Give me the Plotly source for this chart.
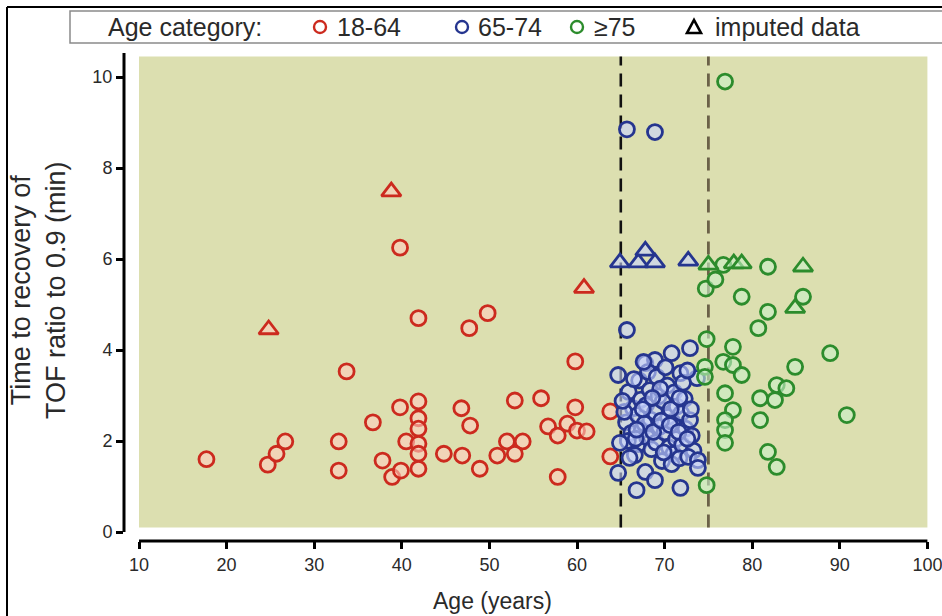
import plotly.graph_objects as go

# ---------------- data ----------------
red_age = [17.7, 24.7, 25.7, 26.7, 32.8, 32.8, 33.7, 36.7, 37.8, 38.9,
           39.9, 39.8, 39.8, 40.5, 41.9, 41.9, 41.9, 41.9, 41.9, 41.9,
           41.9, 44.8, 46.9, 46.8, 47.8, 47.7, 48.9, 49.8, 50.9, 52.0,
           53.8, 52.9, 52.9, 55.9, 56.7, 57.8, 57.8, 58.9, 59.8, 59.8,
           60.0, 61.1, 63.8, 63.8]
red_time = [1.60, 1.48, 1.72, 1.99, 1.99, 1.35, 3.53, 2.41, 1.57, 1.21,
            1.35, 2.74, 6.25, 1.99, 4.70, 2.87, 2.50, 2.27, 1.94, 1.72,
            1.39, 1.72, 1.68, 2.72, 2.34, 4.48, 1.39, 4.81, 1.68, 1.99,
            1.99, 1.72, 2.89, 2.94, 2.32, 2.12, 1.21, 2.38, 2.74, 3.75,
            2.23, 2.21, 2.65, 1.66]
red_imp_age = [24.8, 38.8, 60.8]
red_imp_time = [4.45, 7.48, 5.36]

blue_age = [65.7, 68.9, 65.7, 72.9, 70.8, 67.8, 68.9, 64.7, 71.8, 73.7,
            65.9, 66.4, 65.6, 66.2, 67.1, 67.3, 66.9, 67.4, 67.0, 68.1,
            68.3, 67.9, 68.4, 68.0, 68.5, 69.1, 69.3, 68.9, 69.4, 69.0,
            70.1, 70.3, 69.8, 70.4, 70.0, 70.5, 71.1, 71.4, 70.9, 71.3,
            71.0, 72.1, 72.3, 71.9, 72.4, 72.0, 72.9, 73.1, 73.3, 65.4,
            65.2, 69.7, 70.8, 71.7, 67.6, 72.6, 66.5,
            65.8, 66.7, 67.7, 68.7, 69.6, 70.6, 71.6, 72.6, 69.5, 70.7,
            67.5, 68.6, 71.7, 73.0, 66.8, 69.9, 72.7,
            64.9, 66.6, 64.7, 67.8, 68.9, 66.8, 71.8, 73.8, 73.8, 66.0]
blue_time = [8.85, 8.79, 4.44, 4.04, 3.93, 3.71, 3.78, 3.45, 3.49, 3.38,
             3.08, 2.72, 2.41, 2.18, 3.33, 2.91, 2.57, 2.24, 1.93, 3.52,
             3.12, 2.79, 2.47, 2.08, 1.82, 3.41, 2.98, 2.63, 2.31, 1.97,
             3.62, 3.22, 2.88, 2.53, 2.19, 1.86, 3.07, 2.76, 2.42, 2.04,
             1.72, 3.28, 2.93, 2.61, 2.27, 1.91, 2.46, 2.12, 1.79, 2.64,
             2.88, 1.56, 1.49, 1.62, 3.74, 3.55, 3.36,
             2.00, 2.05, 2.38, 2.20, 2.45, 2.35, 2.20, 2.05, 3.15, 2.70,
             2.70, 2.95, 2.95, 2.70, 2.25, 1.75, 1.65,
             1.96, 1.69, 1.30, 1.32, 1.14, 0.92, 0.97, 1.58, 1.41, 1.63]
blue_imp_age = [64.9, 67.0, 67.8, 68.9, 72.7]
blue_imp_time = [5.92, 5.92, 6.18, 5.92, 5.96]

green_age = [76.9, 76.7, 81.8, 74.7, 75.8, 78.8, 85.8, 81.8, 80.7, 74.8,
             77.8, 88.9, 76.7, 77.8, 78.8, 74.6, 74.6, 84.9, 82.8, 83.9,
             82.6, 80.9, 76.9, 77.8, 76.9, 76.9, 76.9, 80.9, 90.8, 81.8,
             82.8, 74.8]
green_time = [9.90, 5.87, 5.83, 5.35, 5.55, 5.17, 5.17, 4.84, 4.48, 4.24,
              4.07, 3.93, 3.74, 3.67, 3.45, 3.63, 3.41, 3.63, 3.23, 3.16,
              2.90, 2.94, 3.05, 2.68, 2.46, 2.24, 1.96, 2.46, 2.57, 1.76,
              1.43, 1.03]
green_imp_age = [75.0, 77.9, 78.8, 85.8, 84.9]
green_imp_time = [5.87, 5.90, 5.90, 5.83, 4.92]

cutoffs = [65, 75]
x_ticks = [10, 20, 30, 40, 50, 60, 70, 80, 90, 100]
y_ticks = [0, 2, 4, 6, 8, 10]
legend_labels = ["18-64", "65-74", "\u226575", "imputed data"]

RED, BLUE, GREEN = "#cc2a1e", "#25358f", "#2c8c2c"
RED_F, BLUE_F, GREEN_F = "rgba(255,205,190,0.6)", "rgba(200,212,255,0.6)", "rgba(200,240,200,0.6)"
BG = "#dcdfb0"

# ---------------- figure ----------------
fig = go.Figure()


def add(xs, ys, line, fill, symbol, size):
    fig.add_trace(go.Scatter(
        x=xs, y=ys, mode="markers", showlegend=False, hoverinfo="x+y",
        marker=dict(symbol=symbol, size=size, color=fill,
                    line=dict(color=line, width=2.8))))


add(red_age, red_time, RED, RED_F, "circle", 15)
add(blue_age, blue_time, BLUE, BLUE_F, "circle", 15)
add(green_age, green_time, GREEN, GREEN_F, "circle", 15)
add(red_imp_age, red_imp_time, RED, RED_F, "triangle-up", 17)
add(blue_imp_age, blue_imp_time, BLUE, BLUE_F, "triangle-up", 17)
add(green_imp_age, green_imp_time, GREEN, GREEN_F, "triangle-up", 17)

# plot geometry (pixels)
L, R, T, B = 124, 932, 53, 541
W, H = R - L, B - T


def px(x):
    return (x - L) / W


def py(y):
    return (B - y) / H


shapes = []
# background panel
shapes.append(dict(type="rect", xref="x", yref="y", x0=10, x1=100, y0=0.1, y1=10.45,
                   fillcolor=BG, line=dict(width=0), layer="below"))
# cutoff lines
shapes.append(dict(type="line", xref="x", yref="y", x0=cutoffs[0], x1=cutoffs[0], y0=0.1, y1=10.45,
                   line=dict(color="#111111", width=2.6, dash="13px,8px"), layer="below"))
shapes.append(dict(type="line", xref="x", yref="y", x0=cutoffs[1], x1=cutoffs[1], y0=0.1, y1=10.45,
                   line=dict(color="#6b6148", width=2.8, dash="13px,8px"), layer="below"))
# offset axis lines
shapes.append(dict(type="line", xref="paper", yref="y", x0=0, x1=0, y0=0, y1=10.53,
                   line=dict(color="black", width=3)))
shapes.append(dict(type="line", xref="x", yref="paper", x0=10, x1=100, y0=0, y1=0,
                   line=dict(color="black", width=3)))
# outer frame (left and top)
shapes.append(dict(type="line", xref="paper", yref="paper", x0=px(7), x1=px(7), y0=py(640), y1=py(7),
                   line=dict(color="black", width=2)))
shapes.append(dict(type="line", xref="paper", yref="paper", x0=px(7), x1=px(960), y0=py(7), y1=py(7),
                   line=dict(color="black", width=2)))
# legend box
shapes.append(dict(type="rect", xref="paper", yref="paper", x0=px(70), x1=px(960), y0=py(43), y1=py(11),
                   fillcolor="white", line=dict(color="#8a8a8a", width=1.5)))

# legend markers (pixel-sized shapes)
ly = py(27)
for cx, col in [(320, RED), (462, BLUE), (577, GREEN)]:
    shapes.append(dict(type="circle", xref="paper", yref="paper", xsizemode="pixel", ysizemode="pixel",
                       xanchor=px(cx), yanchor=ly, x0=-6, x1=6, y0=-6, y1=6,
                       line=dict(color=col, width=2.4), fillcolor="rgba(0,0,0,0)"))
shapes.append(dict(type="path", xref="paper", yref="paper", xsizemode="pixel", ysizemode="pixel",
                   xanchor=px(694), yanchor=ly, path="M -7,-6 L 7,-6 L 0,7 Z",
                   line=dict(color="black", width=2.6), fillcolor="rgba(0,0,0,0)"))

annos = []
FONT = "Liberation Sans, Arial, sans-serif"
TXT = "#2a2a2a"
annos.append(dict(xref="paper", yref="paper", x=px(106), y=ly, text="Age category:", showarrow=False,
                  xanchor="left", yanchor="middle", font=dict(size=25, color=TXT, family=FONT)))
for lx, lab in zip([335, 476, 592, 713], legend_labels):
    annos.append(dict(xref="paper", yref="paper", x=px(lx), y=ly, text=lab, showarrow=False,
                      xanchor="left", yanchor="middle", font=dict(size=25, color=TXT, family=FONT)))
# axis titles
annos.append(dict(xref="paper", yref="paper", x=px(38), y=py(290),
                  text="Time to recovery of<br>TOF ratio to 0.9 (min)", showarrow=False,
                  textangle=-90, xanchor="center", yanchor="middle",
                  font=dict(size=27, color=TXT, family=FONT)))
annos.append(dict(xref="paper", yref="paper", x=px(492), y=py(601), text="Age (years)", showarrow=False,
                  xanchor="center", yanchor="middle", font=dict(size=23, color=TXT, family=FONT)))

fig.update_layout(
    width=942, height=616,
    margin=dict(l=L, r=942 - R, t=T, b=616 - B, autoexpand=False),
    paper_bgcolor="white", plot_bgcolor="white",
    shapes=shapes, annotations=annos,
    xaxis=dict(range=[10 - 15 / 8.76, 10 + (R - 139) / 8.76], tickvals=x_ticks, ticks="outside",
               ticklen=7, tickwidth=2.5, tickcolor="black", showgrid=False, zeroline=False,
               showline=False, ticklabeloverflow="allow", automargin=False,
               tickfont=dict(size=18, color=TXT, family=FONT)),
    yaxis=dict(range=[-9 / 45.5, (532 - T) / 45.5], tickvals=y_ticks, ticks="outside",
               ticklen=7, tickwidth=2.5, tickcolor="black", showgrid=False, zeroline=False,
               showline=False, ticklabeloverflow="allow", automargin=False,
               tickfont=dict(size=18, color=TXT, family=FONT)),
    showlegend=False,
)

post = ("document.documentElement.style.overflow='hidden';"
        "document.body.style.margin='0';document.body.style.overflow='hidden';"
        "var gd=document.getElementById('{plot_id}');gd.style.overflow='hidden';"
        "gd.querySelectorAll('.svg-container').forEach(function(e){e.style.overflow='hidden';});")
fig.write_html("out.html", config={"displayModeBar": False}, post_script=post)
